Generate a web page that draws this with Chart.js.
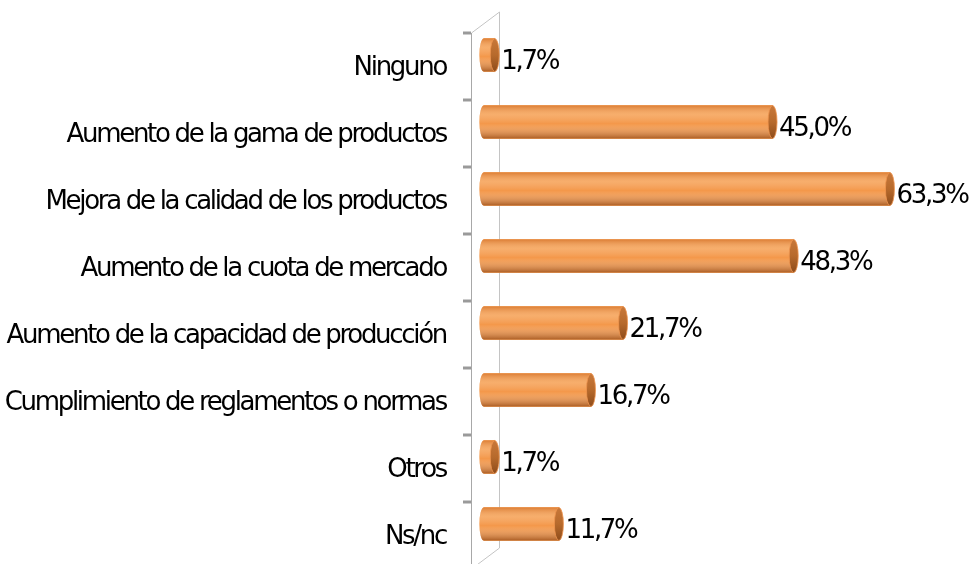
<!DOCTYPE html>
<html>
<head>
<meta charset="utf-8">
<script src="https://cdn.jsdelivr.net/npm/chart.js@4.4.1/dist/chart.umd.min.js"></script>
<style>
    html, body { margin: 0; padding: 0; background: #ffffff; }
    #chart-wrap { width: 973px; height: 564px; }
</style>
</head>
<body>
<div id="chart-wrap"><canvas id="chart-motivos" width="973" height="564"></canvas></div>
<script>
// Datos del grafico
const categorias = [
    'Ninguno',
    'Aumento de la gama de productos',
    'Mejora de la calidad de los productos',
    'Aumento de la cuota de mercado',
    'Aumento de la capacidad de producción',
    'Cumplimiento de reglamentos o normas',
    'Otros',
    'Ns/nc',
];
const porcentajes = [1.7, 45.0, 63.3, 48.3, 21.7, 16.7, 1.7, 11.7];

const fuente = '"DejaVu Sans", sans-serif';
const fmtPct = v => v.toFixed(1).replace('.', ',') + '%';

// Texto algo apretado, como en el original
const espaciado = {
    id: 'espaciado',
    beforeDraw(chart) {
        chart.ctx.letterSpacing = '-2.3px';
    },
};

// Ejes en perspectiva (pared frontal y trasera)
const ejes3d = {
    id: 'ejes3d',
    beforeDatasetsDraw(chart) {
        const { ctx, chartArea: a } = chart;
        const dyF = 11.5, dyB = -9.5, dx = 28;
        const x0 = a.left;
        ctx.save();
        // eje trasero
        ctx.strokeStyle = '#c4c4c4';
        ctx.lineWidth = 1;
        ctx.beginPath();
        ctx.moveTo(x0 + dx + 0.5, a.top + dyB);
        ctx.lineTo(x0 + dx + 0.5, a.bottom + dyB);
        ctx.moveTo(x0 + 0.5, a.top + dyF);
        ctx.lineTo(x0 + dx + 0.5, a.top + dyB);
        ctx.moveTo(x0 + 0.5, a.bottom + dyF);
        ctx.lineTo(x0 + dx + 0.5, a.bottom + dyB);
        ctx.stroke();
        // eje frontal
        ctx.strokeStyle = '#a8a8a8';
        ctx.beginPath();
        ctx.moveTo(x0 + 0.5, a.top + dyF);
        ctx.lineTo(x0 + 0.5, a.bottom + dyF);
        ctx.stroke();
        // marcas
        ctx.strokeStyle = '#9a9a9a';
        ctx.lineWidth = 3;
        const paso = (a.bottom - a.top) / categorias.length;
        for (let i = 0; i <= categorias.length; i++) {
            const yy = a.top + i * paso + dyF;
            ctx.beginPath();
            ctx.moveTo(x0 - 8, yy);
            ctx.lineTo(x0, yy);
            ctx.stroke();
        }
        ctx.restore();
    },
};

// Cilindros y etiquetas de valor
const cilindros = {
    id: 'cilindros',
    afterDatasetsDraw(chart) {
        const { ctx } = chart;
        const meta = chart.getDatasetMeta(0);
        ctx.save();
        meta.data.forEach((bar, i) => {
            const { x, y, base, height } = bar.getProps(['x', 'y', 'base', 'height'], true);
            const h = height, t = y - h / 2;
            const rx = 4.5;

            // cuerpo con brillo
            const g = ctx.createLinearGradient(0, t, 0, t + h);
            g.addColorStop(0, 'rgba(205,110,40,0.6)');
            g.addColorStop(0.28, 'rgba(255,230,195,0.28)');
            g.addColorStop(0.55, 'rgba(255,255,255,0)');
            g.addColorStop(1, 'rgba(125,55,10,0.6)');
            ctx.beginPath();
            ctx.rect(base, t, x - base, h);
            ctx.ellipse(base, y, rx, h / 2, 0, 0, Math.PI * 2);
            ctx.fillStyle = '#f4984a';
            ctx.fill();
            ctx.fillStyle = g;
            ctx.fill();

            // tapa derecha
            const gc = ctx.createLinearGradient(0, t, 0, t + h);
            gc.addColorStop(0, '#c8783a');
            gc.addColorStop(0.5, '#b76a2c');
            gc.addColorStop(1, '#8e4c1b');
            ctx.beginPath();
            ctx.ellipse(x, y, rx, h / 2, 0, 0, Math.PI * 2);
            ctx.fillStyle = gc;
            ctx.fill();
            ctx.strokeStyle = 'rgba(240,150,80,0.8)';
            ctx.lineWidth = 1;
            ctx.stroke();

            // etiqueta
            ctx.fillStyle = '#000000';
            ctx.font = '26px ' + fuente;
            ctx.textAlign = 'left';
            ctx.textBaseline = 'middle';
            ctx.fillText(fmtPct(porcentajes[i]), x + rx + 2, y + 7);
        });
        ctx.restore();
    },
};

const chartMotivos = new Chart(document.getElementById('chart-motivos'), {
    type: 'bar',
    data: {
        labels: categorias,
        datasets: [{
            data: porcentajes,
            backgroundColor: '#f4984a',
            borderWidth: 0,
            barThickness: 33,
        }],
    },
    options: {
        indexAxis: 'y',
        responsive: false,
        animation: false,
        layout: { padding: { top: 21.5, bottom: 6.5, right: 8, left: 0 } },
        plugins: {
            legend: { display: false },
            tooltip: { enabled: false },
        },
        scales: {
            x: { display: false, min: -2, max: 75 },
            y: {
                grid: { display: false, drawTicks: false, tickLength: 0 },
                border: { display: false },
                afterFit: s => {
                    s.width = 471;
                    s.paddingTop = 0;
                    s.paddingBottom = 0;
                },
                ticks: {
                    color: '#000000',
                    padding: 25,
                    labelOffset: 13,
                    font: { family: fuente, size: 26 },
                },
            },
        },
    },
    plugins: [espaciado, ejes3d, cilindros],
});
</script>
</body>
</html>
